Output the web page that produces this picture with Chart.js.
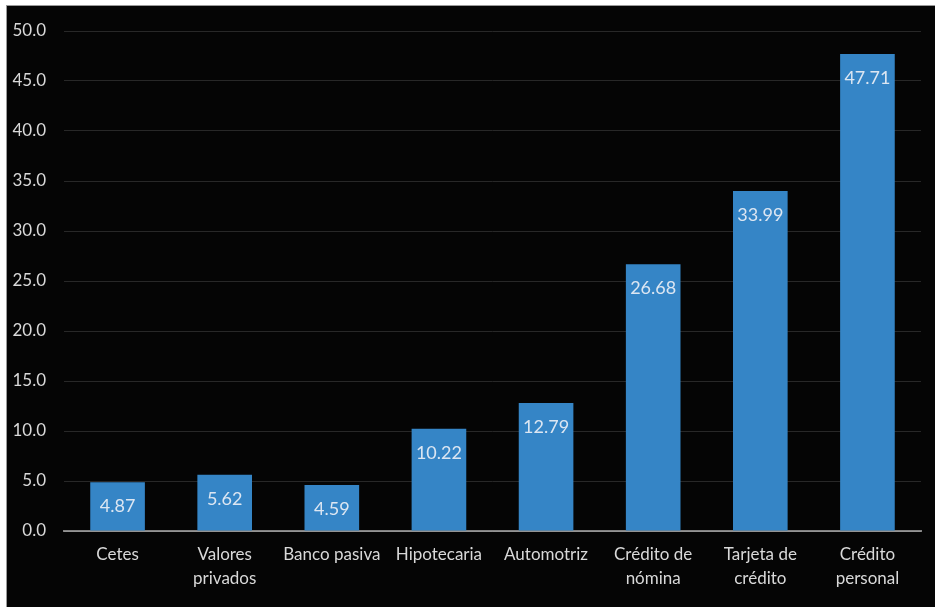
<!DOCTYPE html>
<html>
<head>
<meta charset="utf-8">
<script src="https://cdn.jsdelivr.net/npm/chart.js@4"></script>
<style>
  html, body { margin: 0; padding: 0; background: #ffffff; }
  #frame {
    position: absolute; left: 6px; top: 5px;
    width: 929px; height: 602px;
    background: #050505;
    border-left: 1px solid #9a9a9a; border-top: 1px solid #9a9a9a;
  }
  #chart { display: block; }
</style>
</head>
<body>
<div id="frame"><canvas id="chart" width="929" height="602"></canvas></div>
<script>
const categories = [
  "Cetes",
  ["Valores", "privados"],
  "Banco pasiva",
  "Hipotecaria",
  "Automotriz",
  ["Crédito de", "nómina"],
  ["Tarjeta de", "crédito"],
  ["Crédito", "personal"]
];
const values = [4.87, 5.62, 4.59, 10.22, 12.79, 26.68, 33.99, 47.71];
const yTicks = [0, 5, 10, 15, 20, 25, 30, 35, 40, 45, 50];

const fontFamily = "Lato, 'Open Sans', sans-serif";
const textColor = "#d9d9d9";

// value printed inside each bar, just under its top edge
const barLabels = {
  id: "barLabels",
  afterDatasetsDraw(chart) {
    const ctx = chart.ctx;
    const meta = chart.getDatasetMeta(0);
    ctx.save();
    ctx.font = "18px " + fontFamily;
    ctx.fillStyle = "#dce6f2";
    ctx.textAlign = "center";
    ctx.textBaseline = "middle";
    meta.data.forEach((bar, i) => {
      ctx.fillText(values[i].toFixed(2), bar.x, bar.y + 24);
    });
    ctx.restore();
  }
};

new Chart(document.getElementById("chart"), {
  type: "bar",
  data: {
    labels: categories,
    datasets: [{
      data: values,
      backgroundColor: "#3585c6",
      borderWidth: 0,
      barPercentage: 1,
      categoryPercentage: 0.51
    }]
  },
  options: {
    responsive: false,
    animation: false,
    layout: { padding: { top: 25, right: 15, left: 0, bottom: 0 } },
    plugins: {
      legend: { display: false },
      tooltip: { enabled: false }
    },
    scales: {
      x: {
        z: 1,
        grid: { display: false, drawTicks: false },
        border: { display: true, color: "rgba(255,255,255,0.5)", width: 2 },
        ticks: {
          color: textColor,
          font: { family: fontFamily, size: 17, lineHeight: 1.45 },
          padding: 11,
          maxRotation: 0,
          autoSkip: false
        },
        afterFit(scale) {
          scale.height = 77;
          scale.paddingLeft = 0;
          scale.paddingRight = 0;
        }
      },
      y: {
        min: 0,
        max: 50,
        afterBuildTicks(scale) {
          scale.ticks = yTicks.map(v => ({ value: v }));
        },
        grid: { color: "#282828", lineWidth: 1, drawTicks: false },
        border: { display: false },
        ticks: {
          color: textColor,
          font: { family: fontFamily, size: 17 },
          padding: 18,
          callback: v => v.toFixed(1)
        },
        afterFit(scale) {
          scale.width = 57;
          scale.paddingTop = 0;
          scale.paddingBottom = 0;
        }
      }
    }
  },
  plugins: [barLabels]
});
</script>
</body>
</html>
